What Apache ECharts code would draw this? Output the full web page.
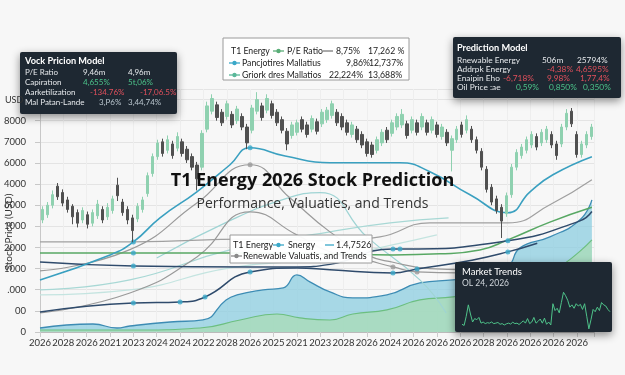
<!DOCTYPE html>
<html>
<head>
<meta charset="utf-8">
<script src="https://cdn.jsdelivr.net/npm/echarts@6/dist/echarts.min.js"></script>
<style>
  html, body { margin: 0; padding: 0; background: #f7f7f7; }
  #chart { width: 625px; height: 375px; }
</style>
</head>
<body>
<div id="chart"></div>
<script>
const yearLabels = ['2026', '2028', '2026', '2021', '2023', '2024', '2024', '2022', '2028', '2026', '2025', '2021',
  '2023', '2028', '2026', '2024', '2026', '2026', '2026', '2028', '2026', '2026', '2026', '2026'];
const priceLabels = ['0', '00', '.000', '1000', '2000', '1000', '6000', '4000', '6000', '7000', '8000'];

// [open, close, low, high]
const candles = [
  [5300, 5800, 5150, 5950], [5550, 6000, 5400, 6150], [6000, 6500, 5850, 6700], [6900, 6400, 6250, 7050],
  [6600, 6100, 5950, 6750], [6250, 5800, 5650, 6400], [5950, 5450, 5100, 6050], [5650, 5150, 4950, 5800],
  [5300, 5750, 5150, 5900], [5550, 5100, 4900, 5700], [5150, 5650, 5000, 5800], [5500, 6050, 5350, 6250],
  [5800, 5300, 5150, 5950], [5450, 5900, 5300, 6100], [5750, 6300, 5600, 6450], [6950, 6450, 6200, 7300],
  [6150, 5650, 5500, 6300], [5800, 5300, 5100, 5950], [5400, 4800, 4250, 5550], [5350, 5950, 5200, 6100],
  [5800, 6250, 5650, 6400], [6550, 7400, 6400, 7550], [7500, 8300, 7350, 8450], [8300, 8950, 8150, 9100],
  [9000, 8450, 8300, 9150], [8600, 9100, 8450, 9300], [8900, 8350, 8200, 9050], [8700, 9250, 8550, 9450],
  [9000, 8450, 8300, 9150], [8650, 8150, 8000, 8800], [8300, 7800, 7650, 8450], [7900, 7250, 6700, 8050],
  [7800, 9400, 7650, 9550], [9600, 10700, 9450, 10900], [10450, 11050, 10300, 11250], [10750, 10150, 10000, 10900],
  [10400, 9900, 9750, 10550], [10200, 10800, 10050, 10950], [10300, 9800, 9650, 10450], [10000, 10550, 9850, 10700],
  [10200, 9700, 9550, 10350], [9700, 8950, 8650, 9850], [9550, 10600, 9400, 10750], [10450, 11000, 10300, 11350],
  [10700, 10150, 10000, 10850], [10500, 11050, 10350, 11250], [10800, 10250, 10100, 10950], [10400, 9900, 9750, 10550],
  [10050, 9550, 9400, 10200], [9500, 8900, 8600, 9650], [9300, 9800, 9150, 9950], [9450, 9900, 9300, 10050],
  [10050, 9600, 9450, 10200], [9800, 9350, 9200, 9950], [9600, 10100, 9450, 10250], [9950, 9500, 9350, 10100],
  [9850, 10400, 9700, 10550], [10050, 10500, 9900, 10650], [10250, 10800, 10100, 10950], [10400, 9900, 9750, 10550],
  [10200, 9700, 9550, 10350], [9900, 9450, 9300, 10050], [9350, 9800, 9200, 9950], [9600, 9100, 8950, 9750],
  [9350, 8850, 8700, 9500], [9000, 8450, 8300, 9150], [8850, 8400, 8250, 9000], [8600, 9100, 8450, 9250],
  [8950, 9450, 8800, 9600], [9550, 9100, 8950, 9700], [9400, 9900, 9250, 10050], [9700, 10200, 9550, 10350],
  [9800, 10300, 9650, 10550], [9850, 9300, 9150, 10000], [9550, 10050, 9400, 10200], [9900, 9450, 9300, 10050],
  [9700, 10200, 9550, 10350], [9900, 9450, 9300, 10050], [9550, 10050, 9400, 10200], [9800, 9350, 9200, 9950],
  [9250, 9700, 9100, 9850], [9450, 8950, 8800, 9600], [8600, 9150, 7600, 9300], [9100, 9600, 8950, 9750],
  [9800, 9350, 9200, 9950], [9550, 10050, 9400, 10250], [9600, 9100, 8950, 9750], [9100, 8600, 8450, 9250],
  [8550, 7800, 7650, 8700], [7700, 6750, 6600, 7850], [6850, 6150, 6000, 7000], [6300, 5750, 5600, 6450],
  [5900, 5250, 4450, 6050], [5600, 6450, 5450, 6600], [6500, 7800, 6350, 7950], [7800, 8500, 7650, 8650],
  [8350, 8750, 8200, 8900], [8600, 9100, 8450, 9250], [8850, 9350, 8700, 9500], [9250, 8750, 8600, 9400],
  [8950, 9450, 8800, 9600], [9100, 9600, 8950, 9750], [9350, 8850, 8700, 9500], [8900, 8350, 8150, 9050],
  [8900, 9700, 8750, 9850], [9700, 10350, 9550, 10550], [10450, 9850, 9700, 10600], [9350, 8400, 8250, 9500],
  [8400, 8900, 8250, 9050], [8850, 9350, 8700, 9500], [9250, 9700, 9100, 9850]
];

// lines: [x (year-label index), price]
const snergy = [[0, 2464], [3, 3649], [4, 4265], [5.14, 5403], [6.72, 6635], [8.14, 7915], [9, 8720], [10.5, 8330],
  [12.42, 8009], [15.42, 8009], [16.7, 7583], [18.42, 6493], [20.04, 5640], [20.99, 6635], [21.97, 7440], [23.64, 8294]];
const snergyMarks = [2, 6];
const valuatisHigh = [[0, 2891], [3.85, 3900], [6.72, 6100], [9, 7915], [10.7, 6350], [12.42, 4739], [14, 3650],
  [15.12, 3300], [16.7, 3000], [18.2, 2950]];
const valuatisHighMarks = [3];
const valuatisLow = [[0, 900], [3.85, 1848], [6.72, 3554], [9, 5687], [11, 4597], [12.42, 3791], [14, 3400],
  [15.12, 3081], [16.15, 2844], [18, 2800]];
const valuatisLowMarks = [7, 8];
const valuatisFlat = [[0, 4265], [4, 4265], [9, 4400], [12.42, 4313], [14.56, 4500], [16.7, 5166], [20.04, 5166],
  [21.84, 6019], [23.64, 7204]];
const peRatio = [[0, 3744], [4, 3744], [9, 3744], [12.42, 3700], [15.12, 3649], [17.13, 3700], [18.84, 3880],
  [20.04, 4360], [21.84, 5200], [23.64, 5900]];
const peRatioMarks = [1];
const navyUpper = [[0, 3318], [4, 3128], [9, 3081], [11, 3081], [12.42, 3200], [15.12, 3933], [15.42, 3933],
  [20.04, 4313], [23.13, 5260], [23.64, 5700]];
const navyUpperMarks = [1, 5, 6, 7];
const navyLower = [[0, 948], [4, 1374], [6, 1422], [7.07, 1659], [9, 2844], [11, 3033], [12.42, 2950], [15.12, 2796],
  [16.15, 2986], [18.5, 3400], [20.04, 3791], [21.3, 4200]];
const navyLowerMarks = [1, 2, 3, 4, 7, 8, 10];
const paleA = [[0, 1991], [3.85, 2464], [8.14, 3886], [12.42, 4739], [15, 5166], [17.5, 5400]];
const paleB = [[0, 1754], [3.85, 1991], [8.14, 3033], [12.42, 3507], [15, 4100], [17, 4600]];
const paleC = [[5, 3500], [8, 5200], [10.5, 6300], [12, 6600], [14, 4500], [16.27, 2464], [17.4, 900]];
const blueArea = [[0, 190], [2.27, 379], [3.3, 190], [3.85, 284], [5.57, 474], [6.98, 569], [7.97, 1517], [8.44, 1754],
  [9.56, 1991], [10.42, 2085], [11, 2701], [11.56, 2370], [12.42, 1896], [13.4, 1611], [14.86, 1754], [16.27, 2322],
  [17.69, 2464], [18.84, 2600], [20.04, 3100], [20.56, 3981], [21.84, 4500], [23.13, 5308], [23.64, 6256]];
const greenArea = [[0, 95], [4, 95], [6.85, 190], [8.57, 569], [10.15, 853], [11.13, 664], [12.42, 569], [13.4, 853],
  [14.86, 1043], [16.27, 1517], [17.69, 1659], [18.84, 1900], [20.04, 2200], [21.84, 2800], [23.64, 4360]];

const trendValues = [25, 20, 60, 110, 70, 35, 50, 45, 55, 30, 35, 28, 32, 30, 35, 28, 30, 33, 25, 28, 22, 27, 30, 26,
  34, 28, 30, 24, 32, 40, 30, 50, 28, 35, 55, 30, 38, 48, 30, 52, 25, 35, 22, 115, 85, 95, 75, 120, 165, 150, 130,
  100, 110, 95, 115, 105, 112, 90, 115, 60, 5, 45, 90, 80, 100, 85, 120, 110, 105, 90, 80];

const FONT = '"Open Sans", sans-serif';
const SMALL = 'Lato, sans-serif';
const WHITE = '#e6e9ec', GREEN = '#4cc38a', RED = '#e2505c', LIGHT = '#b8c4cc';

function line(name, data, color, width, marks) {
  const s = [{
    name, type: 'line', xAxisIndex: 0, yAxisIndex: 0, data, smooth: true, symbol: 'none',
    lineStyle: { color, width }, z: 3
  }];
  if (marks) {
    s.push({
      type: 'scatter', xAxisIndex: 0, yAxisIndex: 0, data: marks.map(i => data[i]),
      symbolSize: 5, itemStyle: { color: name === 'gray' ? '#9a9a9a' : '#3aa8c8' }, z: 4
    });
  }
  return s;
}

function txt(x, y, text, fill, size, weight) {
  return {
    type: 'text', x, y, z: 30,
    style: { text, fill, font: (weight || 'normal') + ' ' + size + 'px ' + SMALL, textVerticalAlign: 'middle', verticalAlign: 'middle' }
  };
}
function icon(x, y, color) {
  return [
    { type: 'line', z: 30, shape: { x1: x, y1: y, x2: x + 11, y2: y }, style: { stroke: color, lineWidth: 1.3 } },
    { type: 'circle', z: 31, shape: { cx: x + 5.5, cy: y, r: 2.2 }, style: { fill: color } }
  ];
}
function darkBox(x, y, w, h) {
  return {
    type: 'rect', z: 25, shape: { x, y, width: w, height: h, r: 2 },
    style: { fill: '#1e2832', shadowBlur: 8, shadowOffsetY: 3, shadowColor: 'rgba(0,0,0,0.45)' }
  };
}

const P1 = 8, P3 = 8.3, LG = 8.7, LM = 9;
const graphics = [
  txt(5, 100, 'USD', '#333', 9),
  { type: 'text', x: 9, y: 232, rotation: Math.PI / 2, z: 30,
    style: { text: 'Stock Price (USD)', fill: '#333', font: '10px ' + SMALL, textAlign: 'center', align: 'center', textVerticalAlign: 'middle', verticalAlign: 'middle' } },

  darkBox(20, 52, 157, 62),
  txt(25, 61, 'Vock Pricion Model', '#ffffff', 9.2, 'bold'),
  txt(25, 72, 'P/E Ratio', WHITE, P1), txt(83, 72, '9,46m', WHITE, P1), txt(128, 72, '4,96m', WHITE, P1),
  txt(25, 82, 'Capiration', WHITE, P1), txt(83, 82, '4,655%', GREEN, P1), txt(128, 82, '5t,06%', GREEN, P1),
  txt(25, 92, 'Aarketilization', WHITE, P1), txt(90, 92, '-134.76%', RED, P1), txt(140, 92, '-17,06.5%', RED, P1),
  txt(25, 102, 'Mal Patan-Lande', WHITE, P1), txt(99, 102, '3,P6%', LIGHT, P1), txt(128, 102, '3,44,74%', LIGHT, P1),

  darkBox(453, 37, 168, 61),
  txt(457, 48, 'Prediction Model', '#ffffff', 9.2, 'bold'),
  txt(457, 60, 'Rnewable Energy', WHITE, P3), txt(542, 60, '506m', WHITE, P3), txt(577, 60, '25794%', WHITE, P3),
  txt(457, 69, 'Addrpk Energy', WHITE, P3), txt(547, 69, '-4,38%', RED, P3), txt(576, 69, '4,6595%', RED, P3),
  txt(457, 78, 'Enaipin Eho', WHITE, P3), txt(503, 78, '-6,718%', RED, P3), txt(547, 78, '9,98%', RED, P3), txt(580, 78, '1,77,4%', RED, P3),
  txt(457, 87, 'Oil Price :ae', WHITE, P3), txt(516, 87, '0,59%', GREEN, P3), txt(549, 87, '0,850%', GREEN, P3), txt(583, 87, '0,350%', GREEN, P3),

  { type: 'rect', z: 25, shape: { x: 223, y: 38, width: 186, height: 42 },
    style: { fill: 'rgba(255,255,255,0.95)', stroke: '#9a9a9a', lineWidth: 1 } },
  txt(231, 51, 'T1 Energy', '#222', LG), ...icon(273, 51, '#5aae78'), txt(287, 51, 'P/E Ratio', '#222', LG),
  { type: 'line', z: 30, shape: { x1: 323, y1: 51, x2: 333, y2: 51 }, style: { stroke: '#555', lineWidth: 1 } },
  txt(336, 51, '8,75%', '#222', LG), txt(368, 51, '17,262 %', '#222', LG),
  ...icon(229, 63, '#3aa8c8'), txt(242, 63, 'Pancjotires Mallatius', '#222', LG), txt(346, 63, '9,86%', '#222', LG), txt(369, 63, '12,737%', '#222', LG),
  ...icon(229, 75, '#5ab89a'), txt(242, 75, 'Griork dres Mallatios', '#222', LG), txt(329, 75, '22,224%', '#222', LG), txt(368, 75, '13,688%', '#222', LG),

  { type: 'rect', z: 25, shape: { x: 230, y: 235, width: 142, height: 28 },
    style: { fill: 'rgba(255,255,255,0.95)', stroke: '#9a9a9a', lineWidth: 1 } },
  txt(233, 245, 'T1 Energy', '#222', LM), ...icon(273, 245, '#3aa8c8'), txt(288, 245, 'Snergy', '#222', LM),
  { type: 'line', z: 30, shape: { x1: 325, y1: 245, x2: 334, y2: 245 }, style: { stroke: '#3aa8c8', lineWidth: 1.3 } },
  txt(336, 245, '1.4,7526', '#222', LM),
  ...icon(231, 256, '#8a8a8a'), txt(243, 256, 'Renewable Valuatis, and Trends', '#222', LM),

  darkBox(455, 262, 157, 70),
  txt(462, 272, 'Market Trends', '#ffffff', 9.5),
  txt(462, 283, 'OL 24, 2026', '#d0d6db', 8.5)
];

const chart = echarts.init(document.getElementById('chart'));
chart.setOption({
  backgroundColor: '#f7f7f7',
  animation: false,
  textStyle: { fontFamily: FONT },
  title: {
    text: 'T1 Energy 2026 Stock Prediction',
    subtext: 'Performance, Valuaties, and Trends',
    left: 'center', top: 167, itemGap: 7,
    textStyle: { fontSize: 18, fontWeight: 'bold', color: '#111', fontFamily: FONT },
    subtextStyle: { fontSize: 14, color: '#333', fontFamily: FONT }
  },
  grid: [
    { left: 40, right: 31, top: 89, bottom: 43 },
    { left: 462, right: 15, top: 290, bottom: 45 }
  ],
  xAxis: [
    {
      type: 'value', gridIndex: 0, min: 0, max: 23.73, interval: 1,
      axisLine: { show: true, lineStyle: { color: '#bbb' } },
      axisTick: { show: true, lineStyle: { color: '#ccc' } },
      splitLine: { show: true, lineStyle: { color: '#eeeeee' } },
      axisLabel: {
        color: '#333', fontSize: 9.5, margin: 6, fontFamily: SMALL,
        formatter: v => (Number.isInteger(v) && yearLabels[v]) || ''
      }
    },
    {
      type: 'category', gridIndex: 0, data: candles.map((c, i) => i), boundaryGap: true, show: false
    },
    { type: 'category', gridIndex: 1, data: trendValues.map((v, i) => i), boundaryGap: false, show: false }
  ],
  yAxis: [
    {
      type: 'value', gridIndex: 0, min: 0, max: 11500, interval: 1000,
      axisLine: { show: true, lineStyle: { color: '#c8c8c8' } },
      splitLine: { lineStyle: { color: '#e4e4e4' } },
      axisLabel: {
        color: '#333', fontSize: 9.5, margin: 14, fontFamily: SMALL,
        formatter: v => priceLabels[v / 1000] || ''
      }
    },
    { type: 'value', gridIndex: 1, min: 0, max: 175, show: false }
  ],
  graphic: graphics,
  series: [
    {
      type: 'line', xAxisIndex: 0, yAxisIndex: 0, data: blueArea, smooth: true, symbol: 'none', z: 2,
      lineStyle: { color: '#3d8cb4', width: 1.3 }, areaStyle: { color: '#8ccde0', opacity: 0.75 }
    },
    {
      type: 'line', xAxisIndex: 0, yAxisIndex: 0, data: greenArea, smooth: true, symbol: 'none', z: 2,
      lineStyle: { color: '#6cbf80', width: 1.2 }, areaStyle: { color: '#aadcb5', opacity: 0.75 }
    },
    ...line('pale', paleA, '#a8d8d5', 1.2),
    ...line('pale', paleB, '#c4e4e0', 1.2),
    ...line('pale', paleC, '#9fd4d4', 1.2),
    ...line('gray', valuatisFlat, '#a0a0a0', 1.2),
    ...line('gray', valuatisHigh, '#9a9a9a', 1.2, valuatisHighMarks),
    ...line('gray', valuatisLow, '#9a9a9a', 1.2, valuatisLowMarks),
    ...line('green', peRatio, '#58a864', 1.5, peRatioMarks),
    ...line('navy', navyUpper, '#2f4b6c', 1.5, navyUpperMarks),
    ...line('navy', navyLower, '#2f4b6c', 1.5, navyLowerMarks),
    ...line('teal', snergy, '#3aa0c0', 1.6, snergyMarks),
    {
      type: 'candlestick', xAxisIndex: 1, yAxisIndex: 0, data: candles, barWidth: 3, z: 5,
      itemStyle: { color: '#8fd1b0', color0: '#505050', borderColor: '#8fd1b0', borderColor0: '#505050', borderWidth: 1 }
    },
    {
      type: 'line', xAxisIndex: 2, yAxisIndex: 1, data: trendValues, symbol: 'none', z: 40,
      lineStyle: { color: '#4fc38a', width: 1 }
    }
  ]
});
</script>
</body>
</html>
